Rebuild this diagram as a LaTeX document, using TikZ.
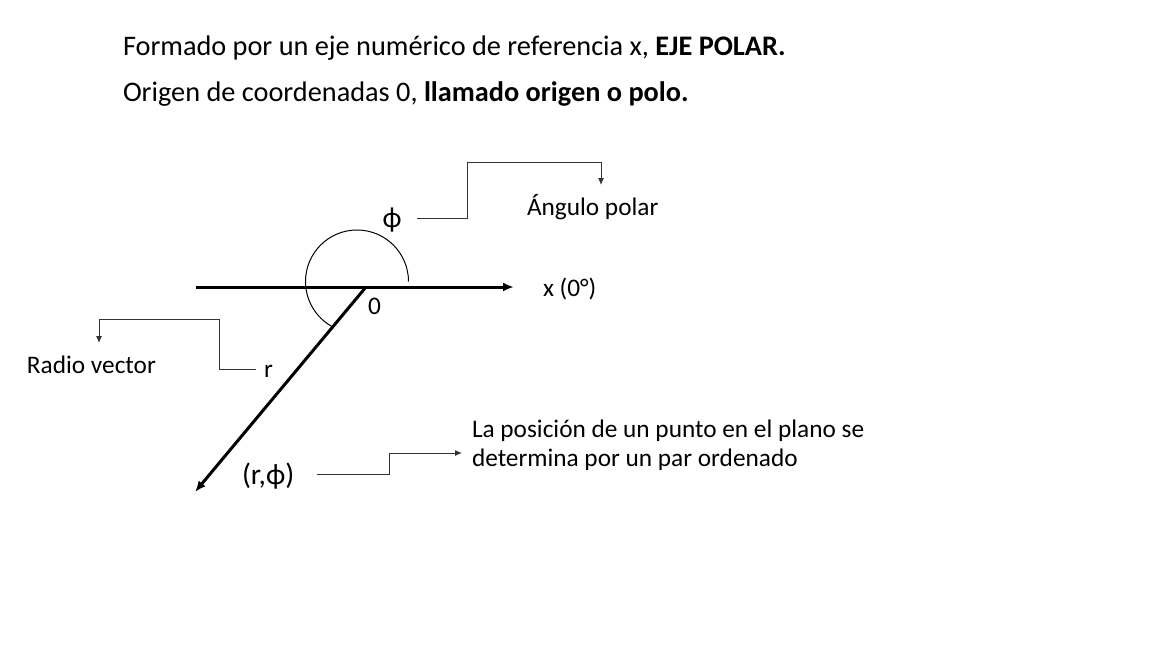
\documentclass[tikz,border=0pt]{standalone}
\usepackage{fontspec}
\setmainfont{Carlito}
\usetikzlibrary{arrows.meta}

\begin{document}
\begin{tikzpicture}[x=1pt,y=-1pt,
  every node/.style={inner sep=0,outer sep=0,font=\fontsize{25.3}{30}\selectfont},
  axisline/.style={line width=3,-{Latex[length=11pt,width=9pt]}},
  leader/.style={line width=1,black!80,-{Latex[length=7pt,width=6pt]}}]

\useasboundingbox (0,0) rectangle (1152,648);

% heading
\node [anchor=base west,font=\fontsize{28.3}{34}\selectfont] (headA) at (123,55) {Formado por un eje numérico de referencia x, \textbf{EJE POLAR.}};
\node [anchor=base west,font=\fontsize{28.3}{34}\selectfont] (headB) at (123,101) {Origen de coordenadas 0, \textbf{llamado origen o polo.}};

% polar axis and radius vector
\coordinate (pole) at (366,287);
\coordinate (axisL) at (196,287);
\coordinate (axisR) at (514,287);
\coordinate (point) at (195,492);

\draw [line width=1] (408.5,281.5) arc [start angle=0,end angle=-241,radius=51.5];

\draw [axisline] (axisL) -- (axisR);
\draw [axisline] (pole) -- (point);

\node [anchor=base west] (xlab) at (543,296) {x (0°)};
\node [anchor=base west] (zero) at (368,314) {0};
\node [anchor=base,font=\fontsize{29}{34}\selectfont] (phi) at (392,227) {ϕ};
\node [anchor=base west] (rlab) at (264,377) {r};
\node [anchor=base west,font=\fontsize{29.5}{35}\selectfont] (pair) at (242,484) {(r,ϕ)};

% notes
\node [anchor=base west] (angle) at (527,215) {Ángulo polar};
\node [anchor=base west] (radio) at (27,373) {Radio vector};
\node [anchor=base west] (posA) at (472,437) {La posición de un punto en el plano se};
\node [anchor=base west] (posB) at (472,466) {determina por un par ordenado};

% leaders
\coordinate (phiOut) at (417,218);
\coordinate (phiUp) at (467,162);
\coordinate (angleIn) at (601,185);
\draw [leader] (phiOut) -| (phiUp) -| (angleIn);

\coordinate (rOut) at (256,369);
\coordinate (rUp) at (219,319);
\coordinate (radioIn) at (99,343);
\draw [leader] (rOut) -| (rUp) -| (radioIn);

\coordinate (pairOut) at (317,474);
\coordinate (pairUp) at (389,453);
\coordinate (posIn) at (462,453);
\draw [leader] (pairOut) -| (pairUp) -- (posIn);

\end{tikzpicture}
\end{document}
